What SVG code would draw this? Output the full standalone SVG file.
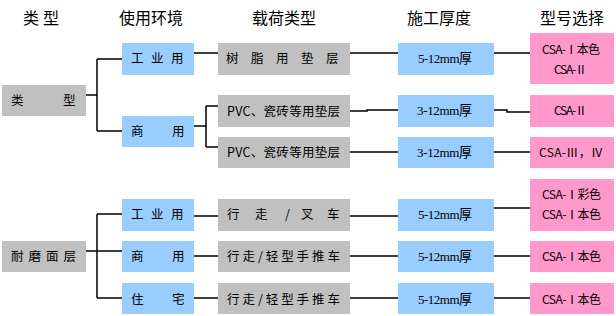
<svg xmlns="http://www.w3.org/2000/svg" width="616" height="316" viewBox="0 0 616 316">
<style>
.g{fill:#C0C0C0}
.b{fill:#99CCFF}
.p{fill:#FF99CC}
text{font-family:"Noto Sans CJK SC","Liberation Sans",sans-serif;font-size:12.5px;fill:#000}
.h{font-size:16px}
.t{font-family:"Liberation Serif","Noto Sans CJK SC",serif;font-size:13px}
.c{font-size:12px}
#connectors path{fill:none;stroke:#000;stroke-width:1.5}
</style>
<rect width="616" height="316" fill="#fff"/>
<g id="headers">
<text class="h" x="23 43" y="23.5">类型</text>
<text class="h" x="119" y="23.5">使用环境</text>
<text class="h" x="252" y="23.5">载荷类型</text>
<text class="h" x="407" y="23.5">施工厚度</text>
<text class="h" x="540" y="23.5">型号选择</text>
</g>
<g id="connectors">
<path d="M86 95H97M97 59V131M97 59H122M97 131H122"/>
<path d="M194 53H218M350 53H398M494 53H530"/>
<path d="M194 126H206M206 106V147M206 106H218M206 147H218"/>
<path d="M350 111H367V110H398M494 110H507V112H530"/>
<path d="M350 152H398M494 152H530"/>
<path d="M86 251H122M97 214V298M97 214H122M97 298H122"/>
<path d="M194 216H218M350 216H398M494 208H530"/>
<path d="M194 256H218M350 256H398M494 256H530"/>
<path d="M194 298H218M350 298H398M494 298H530"/>
</g>
<g id="n-leixing"><rect class="g" x="2" y="85" width="84" height="31"/><text x="11 63" y="104.5">类型</text></g>
<g id="n-gongye1"><rect class="b" x="122" y="43" width="72" height="32"/><text x="131 151 171" y="62.5">工业用</text></g>
<g id="n-shang1"><rect class="b" x="122" y="116" width="72" height="31"/><text x="131 172" y="136">商用</text></g>
<g id="n-shuzhi"><rect class="g" x="218" y="43" width="132" height="32"/><text x="226 251 276 301 326" y="63">树脂用垫层</text></g>
<g id="n-pvc1"><rect class="g" x="218" y="95" width="132" height="32"/><text x="227" y="115.5" textLength="113" lengthAdjust="spacing">PVC、瓷砖等用垫层</text></g>
<g id="n-pvc2"><rect class="g" x="218" y="137" width="132" height="31"/><text x="227" y="157" textLength="113" lengthAdjust="spacing">PVC、瓷砖等用垫层</text></g>
<g id="n-hd1"><rect class="b" x="398" y="43" width="96" height="32"/><text class="t" x="418" y="63" textLength="54" lengthAdjust="spacing">5-12mm厚</text></g>
<g id="n-hd2"><rect class="b" x="398" y="95" width="96" height="32"/><text class="t" x="417" y="115" textLength="55" lengthAdjust="spacing">3-12mm厚</text></g>
<g id="n-hd3"><rect class="b" x="398" y="137" width="96" height="31"/><text class="t" x="417" y="157" textLength="55" lengthAdjust="spacing">3-12mm厚</text></g>
<g id="n-xh1"><rect class="p" x="530" y="33" width="84" height="51"/><text class="c" x="542" y="54" textLength="58" lengthAdjust="spacing">CSA-Ⅰ本色</text><text class="c" x="554" y="74" textLength="33" lengthAdjust="spacing">CSA-Ⅱ</text></g>
<g id="n-xh2"><rect class="p" x="530" y="95" width="84" height="32"/><text class="c" x="554" y="114.5" textLength="33" lengthAdjust="spacing">CSA-Ⅱ</text></g>
<g id="n-xh3"><rect class="p" x="530" y="137" width="84" height="31"/><text class="c" x="539" y="157" textLength="64" lengthAdjust="spacing">CSA-Ⅲ，Ⅳ</text></g>
<g id="n-naimo"><rect class="g" x="2" y="241" width="84" height="31"/><text x="11 28.5 46 63.5" y="261">耐磨面层</text></g>
<g id="n-gongye2"><rect class="b" x="122" y="199" width="72" height="32"/><text x="131 151 171" y="219">工业用</text></g>
<g id="n-shang2"><rect class="b" x="122" y="241" width="72" height="31"/><text x="131 172" y="261">商用</text></g>
<g id="n-zhuzhai"><rect class="b" x="122" y="283" width="72" height="31"/><text x="131 172" y="304">住宅</text></g>
<g id="n-chache"><rect class="g" x="218" y="199" width="132" height="32"/><text x="227 255 285 301 327" y="219">行走/叉车</text></g>
<g id="n-tuiche1"><rect class="g" x="218" y="241" width="132" height="31"/><text x="227" y="261" textLength="113" lengthAdjust="spacing">行走/轻型手推车</text></g>
<g id="n-tuiche2"><rect class="g" x="218" y="283" width="132" height="31"/><text x="227" y="304" textLength="113" lengthAdjust="spacing">行走/轻型手推车</text></g>
<g id="n-hd4"><rect class="b" x="398" y="199" width="96" height="32"/><text class="t" x="418" y="219" textLength="54" lengthAdjust="spacing">5-12mm厚</text></g>
<g id="n-hd5"><rect class="b" x="398" y="241" width="96" height="31"/><text class="t" x="418" y="261" textLength="54" lengthAdjust="spacing">5-12mm厚</text></g>
<g id="n-hd6"><rect class="b" x="398" y="283" width="96" height="31"/><text class="t" x="418" y="304" textLength="54" lengthAdjust="spacing">5-12mm厚</text></g>
<g id="n-xh4"><rect class="p" x="530" y="179" width="84" height="52"/><text class="c" x="542" y="199" textLength="59" lengthAdjust="spacing">CSA-Ⅰ彩色</text><text class="c" x="542" y="219" textLength="59" lengthAdjust="spacing">CSA-Ⅰ本色</text></g>
<g id="n-xh5"><rect class="p" x="530" y="241" width="84" height="31"/><text class="c" x="542" y="260.5" textLength="59" lengthAdjust="spacing">CSA-Ⅰ本色</text></g>
<g id="n-xh6"><rect class="p" x="530" y="283" width="84" height="31"/><text class="c" x="542" y="304" textLength="59" lengthAdjust="spacing">CSA-Ⅰ本色</text></g>
</svg>
